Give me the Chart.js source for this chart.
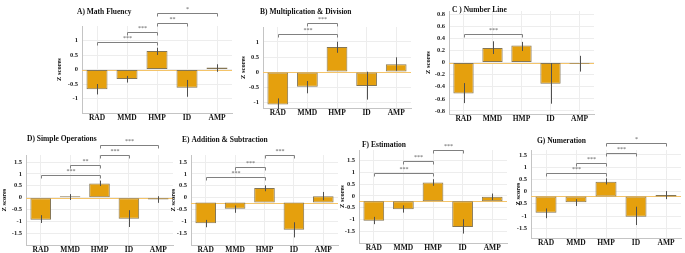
<!DOCTYPE html>
<html>
<head>
<meta charset="utf-8">
<script src="https://cdn.jsdelivr.net/npm/chart.js@4.4.1/dist/chart.umd.min.js"></script>
<style>
  html, body { margin: 0; padding: 0; background: #fff; }
  #wrap { position: relative; width: 685px; height: 253px; overflow: hidden; }
  #wrap canvas { position: absolute; }
</style>
</head>
<body>
<div id="wrap"></div>
<script>
const groups = ['RAD', 'MMD', 'HMP', 'ID', 'AMP'];

// A) Math Fluency
const fluencyMean = [-0.68, -0.33, 0.64, -0.63, 0.07];
const fluencyLow  = [-0.86, -0.45, 0.50, -0.94, -0.08];
const fluencyHigh = [-0.50, -0.22, 0.75, -0.36, 0.18];
const fluencySig  = [[0, 2, 0.96, '***'], [1, 2, 1.28, '***'], [2, 3, 1.61, '**'], [2, 4, 1.94, '*']];

// B) Multiplication & Division
const multMean = [-1.08, -0.49, 0.83, -0.47, 0.26];
const multLow  = [-1.25, -0.71, 0.64, -0.92, 0.04];
const multHigh = [-0.88, -0.30, 1.01, 0.01, 0.49];
const multSig  = [[0, 2, 1.26, '***'], [1, 2, 1.64, '***']];

// C) Number Line
const lineMean = [-0.51, 0.24, 0.28, -0.35, -0.02];
const lineLow  = [-0.67, 0.14, 0.19, -0.68, -0.15];
const lineHigh = [-0.34, 0.35, 0.34, -0.01, 0.11];
const lineSig  = [[0, 2, 0.47, '***']];

// D) Simple Operations
const simpleMean = [-0.93, 0.06, 0.60, -0.89, -0.08];
const simpleLow  = [-1.07, -0.10, 0.49, -1.24, -0.22];
const simpleHigh = [-0.74, 0.15, 0.72, -0.53, 0.06];
const simpleSig  = [[0, 2, 0.96, '***'], [1, 2, 1.38, '**'], [2, 3, 1.81, '***'], [2, 4, 2.23, '***']];

// E) Addition & Subtraction
const addMean = [-1.08, -0.47, 0.41, -1.36, 0.06];
const addLow  = [-1.25, -0.64, 0.27, -1.68, -0.11];
const addHigh = [-0.94, -0.33, 0.52, -1.04, 0.24];
const addSig  = [[0, 2, 0.85, '***'], [1, 2, 1.30, '***'], [2, 3, 1.80, '***']];

// F) Estimation
const estMean = [-1.06, -0.57, 0.57, -1.32, -0.04];
const estLow  = [-1.20, -0.71, 0.43, -1.60, -0.18];
const estHigh = [-0.89, -0.40, 0.71, -0.99, 0.10];
const estSig  = [[0, 2, 0.98, '***'], [1, 2, 1.48, '***'], [2, 3, 1.94, '***']];

// G) Numeration
const numMean = [-0.87, -0.44, 0.40, -1.03, -0.14];
const numLow  = [-1.09, -0.59, 0.29, -1.37, -0.31];
const numHigh = [-0.69, -0.31, 0.54, -0.62, 0.02];
const numSig  = [[0, 2, 0.77, '***'], [1, 2, 1.18, '***'], [2, 3, 1.58, '***'], [2, 4, 1.97, '*']];

// tick labels
const ticksOne  = [1, 0.5, 0, -0.5, -1];
const labelsOne = ['1', '0.5', '0', '-0.5', '-1'];
const ticksC    = [0.8, 0.6, 0.4, 0.2, 0, -0.2, -0.4, -0.6, -0.8];
const labelsC   = ['0.8', '0.6', '0.4', '0.2', '0', '-0.2', '-0.4', '-0.6', '-0.8'];
const ticksLow  = [1.5, 1, 0.5, 0, -0.5, -1, -1.5];
const labelsLow = ['1.5', '1', '0.5', '0', '-0.5', '-1', '-1.5'];

const panels = [
  { title: 'A) Math Fluency', mean: fluencyMean, lo: fluencyLow, hi: fluencyHigh, sig: fluencySig, ticks: ticksOne, labels: labelsOne, base: 0 },
  { title: 'B) Multiplication & Division', mean: multMean, lo: multLow, hi: multHigh, sig: multSig, ticks: ticksOne, labels: labelsOne, base: 0 },
  { title: 'C ) Number Line', mean: lineMean, lo: lineLow, hi: lineHigh, sig: lineSig, ticks: ticksC, labels: labelsC, base: 0 },
  { title: 'D) Simple Operations', mean: simpleMean, lo: simpleLow, hi: simpleHigh, sig: simpleSig, ticks: ticksLow, labels: labelsLow, base: 0 },
  { title: 'E) Addition & Subtraction', mean: addMean, lo: addLow, hi: addHigh, sig: addSig, ticks: ticksLow, labels: labelsLow, base: -0.21 },
  { title: 'F) Estimation', mean: estMean, lo: estLow, hi: estHigh, sig: estSig, ticks: ticksLow, labels: labelsLow, base: -0.23 },
  { title: 'G) Numeration', mean: numMean, lo: numLow, hi: numHigh, sig: numSig, ticks: ticksLow, labels: labelsLow, base: -0.2 }
];

// where each panel sits on the page: canvas box, plot area, axis range, title spot
const boxes = [
  { x: 55,  y: 0,   w: 180, h: 125, l: 82,  r: 232, t: 26,  b: 113, min: -1.5,  max: 1.5,  tx: 77,  ty: 12 },
  { x: 239, y: 0,   w: 176, h: 118, l: 263, r: 411, t: 27,  b: 108, min: -1.2,  max: 1.5,  tx: 260, ty: 12 },
  { x: 424, y: 0,   w: 175, h: 125, l: 449, r: 594, t: 11,  b: 114, min: -0.85, max: 0.85, tx: 452, ty: 10 },
  { x: 0,   y: 128, w: 177, h: 125, l: 26,  r: 173, t: 155, b: 245, min: -2,    max: 1.8,  tx: 27,  ty: 139 },
  { x: 169, y: 128, w: 173, h: 125, l: 191, r: 338, t: 155, b: 245, min: -2,    max: 1.8,  tx: 182, ty: 140 },
  { x: 338, y: 128, w: 172, h: 125, l: 359, r: 507, t: 150, b: 243, min: -2,    max: 1.95, tx: 362, ty: 145 },
  { x: 514, y: 128, w: 171, h: 125, l: 531, r: 681, t: 150, b: 238, min: -1.9,  max: 1.7,  tx: 537, ty: 141 }
];

const serif = '"Liberation Serif", "Times New Roman", serif';

// zero line, error bars, significance brackets and panel title
const extras = {
  id: 'extras',
  beforeDatasetsDraw(chart, args, opts) {
    const { ctx, chartArea: a, scales: { y } } = chart;
    const py = Math.round(y.getPixelForValue(opts.base)) + 0.5;
    ctx.save();
    ctx.strokeStyle = '#f4c46a';
    ctx.lineWidth = 1;
    ctx.beginPath();
    ctx.moveTo(a.left, py);
    ctx.lineTo(a.right, py);
    ctx.stroke();
    ctx.restore();
  },
  afterDatasetsDraw(chart, args, opts) {
    const { ctx, scales: { x, y } } = chart;
    ctx.save();
    ctx.strokeStyle = '#505050';
    ctx.lineWidth = 1;
    opts.lo.forEach((lo, i) => {
      const px = Math.round(x.getPixelForValue(i)) + 0.5;
      ctx.beginPath();
      ctx.moveTo(px, y.getPixelForValue(lo));
      ctx.lineTo(px, y.getPixelForValue(opts.hi[i]));
      ctx.stroke();
    });
    ctx.restore();
  },
  afterDraw(chart, args, opts) {
    const { ctx, scales: { x, y } } = chart;
    ctx.save();
    ctx.lineWidth = 1;
    ctx.strokeStyle = '#808080';
    ctx.fillStyle = '#555';
    ctx.textAlign = 'center';
    ctx.textBaseline = 'bottom';
    ctx.font = '6px ' + serif;
    opts.sig.forEach(([from, to, v, label]) => {
      const x1 = Math.round(x.getPixelForValue(from)) + 0.5;
      const x2 = Math.round(x.getPixelForValue(to)) + 0.5;
      const py = Math.round(y.getPixelForValue(v)) + 0.5;
      ctx.beginPath();
      ctx.moveTo(x1, py + 3);
      ctx.lineTo(x1, py);
      ctx.lineTo(x2, py);
      ctx.lineTo(x2, py + 3);
      ctx.stroke();
      ctx.fillText(label, (x1 + x2) / 2, py - 1);
    });
    ctx.fillStyle = '#111';
    ctx.textAlign = 'left';
    ctx.textBaseline = 'middle';
    ctx.font = 'bold 7.5px ' + serif;
    ctx.fillText(opts.title, opts.tx, opts.ty);
    ctx.restore();
  }
};

const wrap = document.getElementById('wrap');

panels.forEach((p, k) => {
  const bx = boxes[k];
  const canvas = document.createElement('canvas');
  canvas.width = bx.w;
  canvas.height = bx.h;
  canvas.style.left = bx.x + 'px';
  canvas.style.top = bx.y + 'px';
  canvas.style.width = bx.w + 'px';
  canvas.style.height = bx.h + 'px';
  wrap.appendChild(canvas);

  const yw = bx.l - bx.x;
  const xh = bx.y + bx.h - bx.b;

  new Chart(canvas, {
    type: 'bar',
    data: {
      labels: groups,
      datasets: [{
        data: p.mean,
        base: p.base,
        backgroundColor: '#e5a00d',
        borderColor: '#857654',
        borderWidth: 1,
        borderSkipped: false,
        barPercentage: 0.7,
        categoryPercentage: 1
      }]
    },
    options: {
      responsive: false,
      animation: false,
      devicePixelRatio: 1,
      layout: { padding: { left: 0, top: bx.t - bx.y, right: bx.x + bx.w - bx.r, bottom: 0 } },
      plugins: {
        legend: { display: false },
        tooltip: { enabled: false },
        extras: {
          base: p.base, lo: p.lo, hi: p.hi, sig: p.sig,
          title: p.title, tx: bx.tx - bx.x, ty: bx.ty - bx.y
        }
      },
      scales: {
        x: {
          grid: { offset: false, color: '#ededed', drawTicks: false },
          border: { color: '#c4c4c4' },
          ticks: { font: { family: serif, size: 7.5, weight: 'bold' }, color: '#111', padding: 1, maxRotation: 0, autoSkip: false },
          afterFit: s => { s.height = xh; }
        },
        y: {
          min: bx.min,
          max: bx.max,
          grid: { color: '#ededed', drawTicks: false },
          border: { color: '#c4c4c4' },
          ticks: { font: { family: serif, size: 6.5, weight: 'bold' }, color: '#222', padding: 4, callback: (v, i) => p.labels[i] },
          afterBuildTicks: s => { s.ticks = p.ticks.map(v => ({ value: v })); },
          afterFit: s => { s.width = yw; },
          title: { display: true, text: 'Z scores', font: { family: serif, size: 6.5, weight: 'bold' }, color: '#111', padding: 0 }
        }
      }
    },
    plugins: [extras]
  });
});
</script>
</body>
</html>
